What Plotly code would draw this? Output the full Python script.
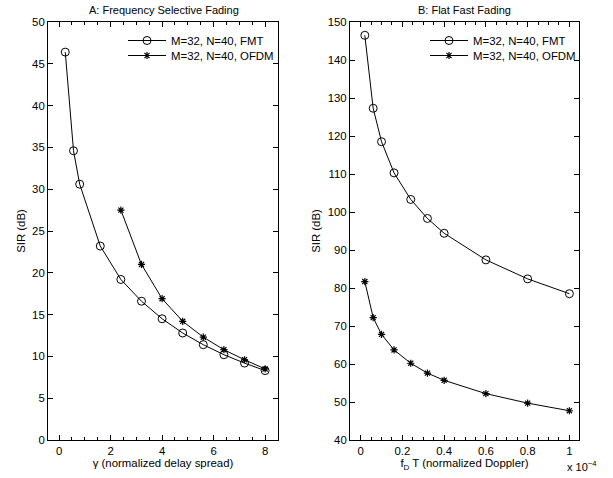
import plotly.graph_objects as go

# Panel A: frequency selective fading
gamma_fmt = [0.24, 0.56, 0.8, 1.6, 2.4, 3.2, 4.0, 4.8, 5.6, 6.4, 7.2, 8.0]
sir_fmt_a = [46.4, 34.6, 30.6, 23.2, 19.2, 16.6, 14.5, 12.8, 11.4, 10.2, 9.2, 8.3]
gamma_ofdm = [2.4, 3.2, 4.0, 4.8, 5.6, 6.4, 7.2, 8.0]
sir_ofdm_a = [27.5, 21.0, 16.9, 14.2, 12.3, 10.8, 9.6, 8.5]

# Panel B: flat fast fading (fD*T in units of 1e-4)
fdt = [0.02, 0.06, 0.1, 0.16, 0.24, 0.32, 0.4, 0.6, 0.8, 1.0]
sir_fmt_b = [146.5, 127.3, 118.5, 110.3, 103.3, 98.3, 94.4, 87.4, 82.4, 78.5]
sir_ofdm_b = [81.7, 72.2, 67.8, 63.7, 60.2, 57.6, 55.7, 52.2, 49.7, 47.7]

FONT = "Liberation Sans, Arial, sans-serif"
FS = 11.4
W, H = 613, 478

fig = go.Figure()

line = dict(color="black", width=1)
circ = dict(symbol="circle-open", size=8, color="black", line=dict(width=1, color="black"))
star = dict(symbol="asterisk-open", size=6, color="black", line=dict(width=1.2, color="black"))

fig.add_trace(go.Scatter(x=gamma_fmt, y=sir_fmt_a, mode="lines+markers", line=line, marker=circ,
                         name="M=32, N=40, FMT", xaxis="x", yaxis="y", legend="legend"))
fig.add_trace(go.Scatter(x=gamma_ofdm, y=sir_ofdm_a, mode="lines+markers", line=line, marker=star,
                         name="M=32, N=40, OFDM", xaxis="x", yaxis="y", legend="legend3"))
fig.add_trace(go.Scatter(x=fdt, y=sir_fmt_b, mode="lines+markers", line=line, marker=circ,
                         name="M=32, N=40, FMT", xaxis="x2", yaxis="y2", legend="legend2"))
fig.add_trace(go.Scatter(x=fdt, y=sir_ofdm_b, mode="lines+markers", line=line, marker=star,
                         name="M=32, N=40, OFDM", xaxis="x2", yaxis="y2", legend="legend4"))

def px_x(p):
    return p / W

def px_y(p):
    return 1 - p / H

ydom = [px_y(440), px_y(22)]

axis_common = dict(showline=True, linecolor="black", linewidth=1, mirror="ticks",
                   ticks="inside", ticklen=5, tickcolor="black", showgrid=False,
                   zeroline=False, automargin=False, tickfont=dict(size=FS, color="black"),
                   title_font=dict(size=FS, color="black"))

def leg(x, y):
    return dict(x=px_x(x), y=px_y(y), xanchor="left", yanchor="top",
                bgcolor="rgba(0,0,0,0)", borderwidth=0, font=dict(size=FS),
                tracegroupgap=0, itemwidth=38)

def note(text, x, y, anchor="center", size=11):
    return dict(text=text, x=px_x(x), y=px_y(y), xref="paper", yref="paper",
                xanchor=anchor, yanchor="middle", showarrow=False, font=dict(size=size))

fig.update_layout(
    width=W, height=H,
    margin=dict(l=0, r=0, t=0, b=0),
    paper_bgcolor="white", plot_bgcolor="white",
    font=dict(family=FONT, color="black", size=FS),
    showlegend=True,
    xaxis=dict(domain=[px_x(48), px_x(278)], range=[-0.43, 8.5], anchor="y",
               tickvals=[0, 2, 4, 6, 8],
               minor=dict(dtick=0.5, ticks="inside", ticklen=3, tickcolor="black"),
               title=dict(text="γ (normalized delay spread)", standoff=3), **axis_common),
    yaxis=dict(domain=ydom, range=[0, 50], anchor="x", dtick=5,
               title=dict(text="SIR (dB)", standoff=4), **axis_common),
    xaxis2=dict(domain=[px_x(350), px_x(579)], range=[-0.051, 1.046], anchor="y2",
                tickvals=[0, 0.2, 0.4, 0.6, 0.8, 1], ticktext=["0", "0.2", "0.4", "0.6", "0.8", "1"],
                minor=dict(dtick=0.05, ticks="inside", ticklen=3, tickcolor="black"),
                title=dict(text="f<sub>D</sub> T (normalized Doppler)", standoff=3), **axis_common),
    yaxis2=dict(domain=ydom, range=[40, 150], anchor="x2", dtick=10,
                title=dict(text="SIR (dB)", standoff=4), **axis_common),
    legend=leg(123, 26),
    legend3=leg(123, 41),
    legend2=leg(425, 26),
    legend4=leg(425, 41),
    annotations=[
        note("A: Frequency Selective Fading", 164, 10),
        note("B: Flat Fast Fading", 464, 10),
        note("x 10<sup>−4</sup>", 565, 466, anchor="left"),
    ],
)

fig.write_html("out.html", config={"displayModeBar": False},
               post_script="document.body.style.margin='0px';")
